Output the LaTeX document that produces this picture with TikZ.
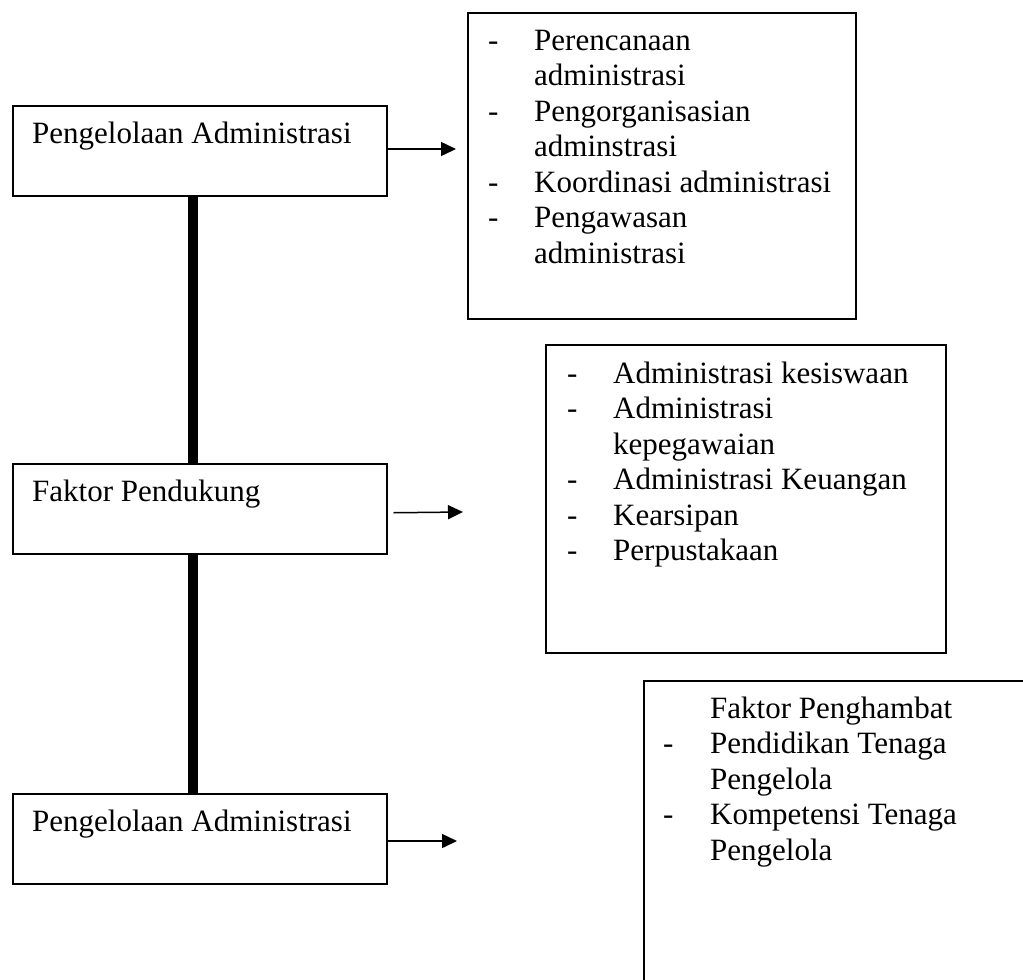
\documentclass[tikz,border=0pt]{standalone}
\usepackage{fontspec}
\setmainfont{Liberation Serif}
\usetikzlibrary{positioning,arrows.meta}
\tikzset{
	kotak/.style={draw,line width=1.5pt,inner sep=0pt,anchor=north west},
	tulisan/.style={inner sep=0pt,anchor=base west},
	panah/.style={->,line width=1.5pt},
	tiang/.style={line width=10pt}
}
\begin{document}
\begin{tikzpicture}[x=1pt,y=-1pt,>={Triangle[length=15pt,width=14pt]},font=\fontsize{31}{35.5}\selectfont]
		\useasboundingbox (0,0) rectangle (1023,980);
		% kotak kiri
		\node[kotak,minimum width=374pt,minimum height=90pt] (kiri1) at (12,105) {};
		\node[kotak,minimum width=374pt,minimum height=90pt] (kiri2) at (12,463) {};
		\node[kotak,minimum width=374pt,minimum height=90pt] (kiri3) at (12,793) {};
		\node[tulisan] (judul1) at (32,143) {Pengelolaan Administrasi};
		\node[tulisan] (judul2) at (32,501) {Faktor Pendukung};
		\node[tulisan] (judul3) at (32,831) {Pengelolaan Administrasi};
		% tiang tebal
		\draw[tiang] ([xshift=-7pt]kiri1.south) -- ([xshift=-7pt]kiri2.north);
		\draw[tiang] ([xshift=-7pt]kiri2.south) -- ([xshift=-7pt]kiri3.north);
		% kotak kanan
		\node[kotak,minimum width=388pt,minimum height=306pt] (kanan1) at (467,12) {};
		\node[kotak,minimum width=400pt,minimum height=308pt] (kanan2) at (545,344) {};
		\node[kotak,minimum width=400pt,minimum height=340pt] (kanan3) at (643,680) {};
		\node[tulisan] (isi1) at (488,50) {\begin{tabular}[t]{@{}p{46pt}@{}l@{}}
			-&Perencanaan\\
			&administrasi\\
			-&Pengorganisasian\\
			&adminstrasi\\
			-&Koordinasi administrasi\\
			-&Pengawasan\\
			&administrasi
		\end{tabular}};
		\node[tulisan] (isi2) at (567,383) {\begin{tabular}[t]{@{}p{46pt}@{}l@{}}
			-&Administrasi kesiswaan\\
			-&Administrasi\\
			&kepegawaian\\
			-&Administrasi Keuangan\\
			-&Kearsipan\\
			-&Perpustakaan
		\end{tabular}};
		\node[tulisan] (isi3) at (663,718) {\begin{tabular}[t]{@{}p{47pt}@{}l@{}}
			&Faktor Penghambat\\
			-&Pendidikan Tenaga\\
			&Pengelola\\
			-&Kompetensi Tenaga\\
			&Pengelola
		\end{tabular}};
		% panah
		\coordinate (ujung1) at (456,149);
		\coordinate (ujung2) at (463,512);
		\coordinate (ujung3) at (457,841);
		\draw[panah] (kiri1.east |- ujung1) -- (ujung1);
		\draw[panah] ([shift={(6,4)}]kiri2.east) -- (ujung2);
		\draw[panah] (kiri3.east |- ujung3) -- (ujung3);
\end{tikzpicture}
\end{document}
